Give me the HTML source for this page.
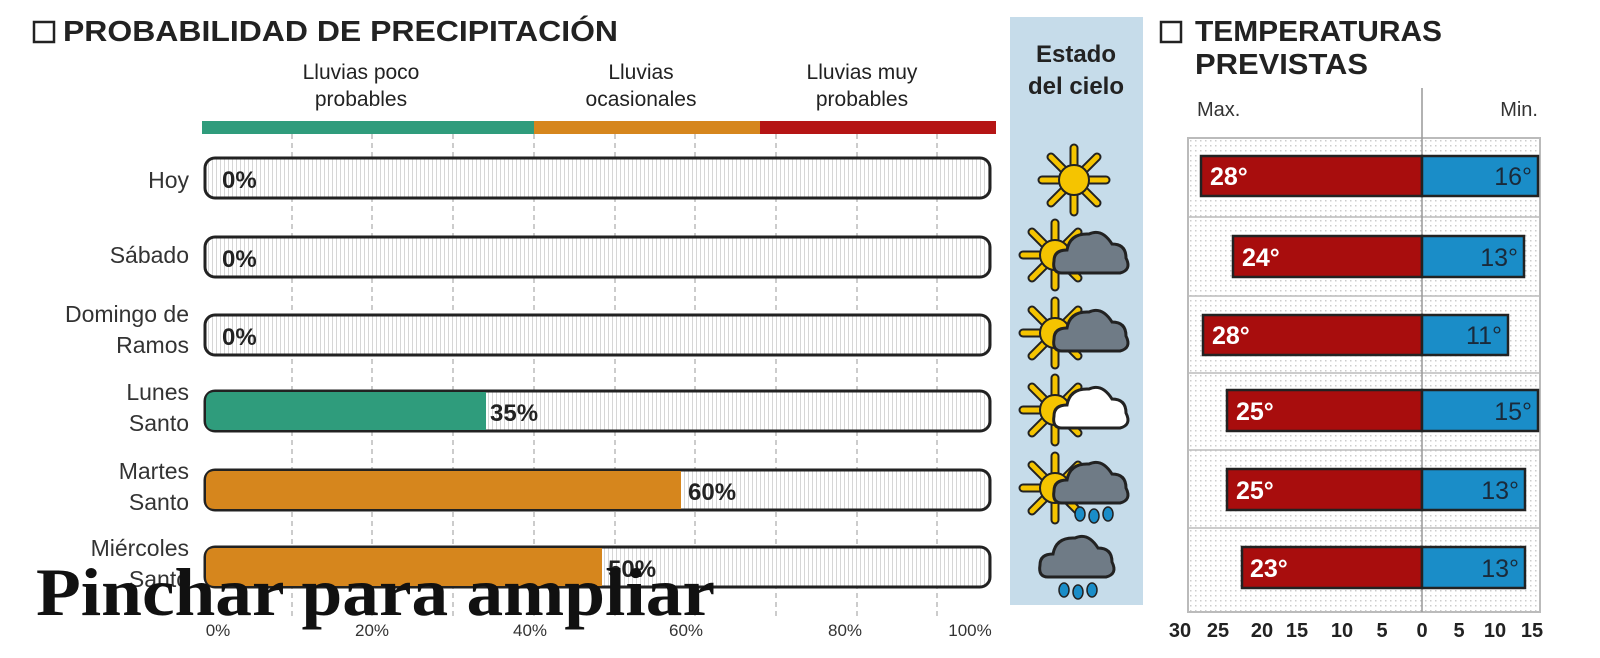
<!DOCTYPE html>
<html><head><meta charset="utf-8"><style>
body{margin:0;width:1600px;height:653px;background:#fff;overflow:hidden;font-family:"Liberation Sans",sans-serif;}
</style></head><body>
<svg width="1600" height="653" xmlns="http://www.w3.org/2000/svg" font-family="Liberation Sans, sans-serif">
<defs>
<pattern id="vl" width="4" height="10" patternUnits="userSpaceOnUse"><rect width="4" height="10" fill="#fff"/><rect x="0" width="1" height="10" fill="#d6d6d6"/></pattern>
<pattern id="dots" width="5" height="5" patternUnits="userSpaceOnUse"><rect width="5" height="5" fill="#fff"/><rect x="0" y="0" width="1.5" height="1.5" fill="#ccc"/></pattern>
<g id="sun"><g stroke="#222" stroke-width="9" stroke-linecap="round"><line x1="0" y1="-32" x2="0" y2="32"/><line x1="-32" y1="0" x2="32" y2="0"/><line x1="-23" y1="-23" x2="23" y2="23"/><line x1="-23" y1="23" x2="23" y2="-23"/></g><g stroke="#f5c400" stroke-width="5" stroke-linecap="round"><line x1="0" y1="-32" x2="0" y2="32"/><line x1="-32" y1="0" x2="32" y2="0"/><line x1="-23" y1="-23" x2="23" y2="23"/><line x1="-23" y1="23" x2="23" y2="-23"/></g><circle r="15" fill="#f5c400" stroke="#222" stroke-width="2"/></g>
<g id="cloud"><path d="M-30,15 Q-40,15 -38,3 Q-38,-8 -25,-8 Q-22,-25 -3,-24 Q10,-30 20,-14 Q34,-14 34,0 Q40,12 28,15 Z" stroke="#222" stroke-width="3"/></g>
<g id="drops" fill="#1a8dc8" stroke="#222" stroke-width="1.5"><ellipse cx="-14" cy="24" rx="5" ry="7"/><ellipse cx="0" cy="26" rx="5" ry="7"/><ellipse cx="14" cy="24" rx="5" ry="7"/></g>
</defs>
<rect x="34" y="22" width="20" height="20" fill="none" stroke="#222" stroke-width="2.5"/>
<text x="63" y="41" font-size="29" font-weight="bold" fill="#222" textLength="555" lengthAdjust="spacingAndGlyphs">PROBABILIDAD DE PRECIPITACIÓN</text>
<g font-size="21" fill="#222" text-anchor="middle">
<text x="361" y="79">Lluvias poco</text><text x="361" y="106">probables</text>
<text x="641" y="79">Lluvias</text><text x="641" y="106">ocasionales</text>
<text x="862" y="79">Lluvias muy</text><text x="862" y="106">probables</text>
</g>
<rect x="202" y="121" width="332" height="13" fill="#2f9c7c"/>
<rect x="534" y="121" width="226" height="13" fill="#d6861d"/>
<rect x="760" y="121" width="236" height="13" fill="#b51515"/>
<g stroke="#999" stroke-width="1" stroke-dasharray="5,4">
<line x1="292" y1="134" x2="292" y2="620"/><line x1="372" y1="134" x2="372" y2="620"/><line x1="453" y1="134" x2="453" y2="620"/><line x1="534" y1="134" x2="534" y2="620"/><line x1="615" y1="134" x2="615" y2="620"/><line x1="695" y1="134" x2="695" y2="620"/><line x1="776" y1="134" x2="776" y2="620"/><line x1="857" y1="134" x2="857" y2="620"/><line x1="937" y1="134" x2="937" y2="620"/>
</g>
<g stroke="#222" stroke-width="3">
<rect x="205" y="158" width="785" height="40" rx="10" fill="url(#vl)"/>
<rect x="205" y="237" width="785" height="40" rx="10" fill="url(#vl)"/>
<rect x="205" y="315" width="785" height="40" rx="10" fill="url(#vl)"/>
<rect x="205" y="391" width="785" height="40" rx="10" fill="url(#vl)"/>
<rect x="205" y="470" width="785" height="40" rx="10" fill="url(#vl)"/>
<rect x="205" y="547" width="785" height="40" rx="10" fill="url(#vl)"/>
</g>
<path d="M215,392 H486 V430 H215 Q206,430 206,421 V401 Q206,392 215,392Z" fill="#2f9c7c"/>
<path d="M215,471 H681 V509 H215 Q206,509 206,500 V480 Q206,471 215,471Z" fill="#d6861d"/>
<path d="M215,548 H602 V586 H215 Q206,586 206,577 V557 Q206,548 215,548Z" fill="#d6861d"/>
<g font-size="24" font-weight="bold" fill="#222">
<text x="222" y="188">0%</text><text x="222" y="267">0%</text><text x="222" y="345">0%</text>
<text x="490" y="421">35%</text><text x="688" y="500">60%</text><text x="608" y="577">50%</text>
</g>
<g font-size="23" fill="#333" text-anchor="end">
<text x="189" y="188">Hoy</text><text x="189" y="263">Sábado</text>
<text x="189" y="322">Domingo de</text><text x="189" y="353">Ramos</text>
<text x="189" y="400">Lunes</text><text x="189" y="431">Santo</text>
<text x="189" y="479">Martes</text><text x="189" y="510">Santo</text>
<text x="189" y="556">Miércoles</text><text x="189" y="587">Santo</text>
</g>
<g font-size="17" fill="#333" text-anchor="middle">
<text x="218" y="636">0%</text><text x="372" y="636">20%</text><text x="530" y="636">40%</text><text x="686" y="636">60%</text><text x="845" y="636">80%</text><text x="970" y="636">100%</text>
</g>
<text x="36" y="615" font-family="Liberation Serif, serif" font-size="68" font-weight="bold" fill="#111" textLength="679" lengthAdjust="spacingAndGlyphs">Pinchar para ampliar</text>
<rect x="1010" y="17" width="133" height="588" fill="#c6dcea"/>
<text x="1076" y="62" font-size="24" font-weight="bold" fill="#222" text-anchor="middle">Estado</text>
<text x="1076" y="94" font-size="24" font-weight="bold" fill="#222" text-anchor="middle">del cielo</text>
<use href="#sun" x="1074" y="180"/>
<use href="#sun" x="1055" y="255"/><use href="#cloud" x="1092" y="258" fill="#6f7b86"/>
<use href="#sun" x="1055" y="333"/><use href="#cloud" x="1092" y="336" fill="#6f7b86"/>
<use href="#sun" x="1055" y="410"/><use href="#cloud" x="1092" y="413" fill="#fff"/>
<use href="#sun" x="1055" y="488"/><use href="#cloud" x="1092" y="488" fill="#6f7b86"/><use href="#drops" x="1094" y="490"/>
<use href="#cloud" x="1078" y="562" fill="#6f7b86"/><use href="#drops" x="1078" y="566"/>
<rect x="1161" y="22" width="20" height="20" fill="none" stroke="#222" stroke-width="2.5"/>
<text x="1195" y="41" font-size="29" font-weight="bold" fill="#222" textLength="247" lengthAdjust="spacingAndGlyphs">TEMPERATURAS</text>
<text x="1195" y="74" font-size="29" font-weight="bold" fill="#222" textLength="173" lengthAdjust="spacingAndGlyphs">PREVISTAS</text>
<text x="1197" y="116" font-size="20" fill="#333">Max.</text>
<text x="1538" y="116" font-size="20" fill="#333" text-anchor="end">Min.</text>
<rect x="1188" y="138" width="352" height="474" fill="url(#dots)" stroke="#bbb" stroke-width="2"/>
<g stroke="#bbb" stroke-width="1.5">
<line x1="1188" y1="217" x2="1540" y2="217"/><line x1="1188" y1="296" x2="1540" y2="296"/><line x1="1188" y1="373" x2="1540" y2="373"/><line x1="1188" y1="450" x2="1540" y2="450"/><line x1="1188" y1="528" x2="1540" y2="528"/>
</g>
<line x1="1422" y1="88" x2="1422" y2="612" stroke="#999" stroke-width="1.5"/>
<g stroke="#222" stroke-width="2.5">
<rect x="1201" y="156" width="221" height="40" fill="#a80d0d"/><rect x="1422" y="156" width="116" height="40" fill="#1a8dc8"/>
<rect x="1233" y="236" width="189" height="41" fill="#a80d0d"/><rect x="1422" y="236" width="102" height="41" fill="#1a8dc8"/>
<rect x="1203" y="315" width="219" height="40" fill="#a80d0d"/><rect x="1422" y="315" width="86" height="40" fill="#1a8dc8"/>
<rect x="1227" y="390" width="195" height="41" fill="#a80d0d"/><rect x="1422" y="390" width="116" height="41" fill="#1a8dc8"/>
<rect x="1227" y="469" width="195" height="41" fill="#a80d0d"/><rect x="1422" y="469" width="103" height="41" fill="#1a8dc8"/>
<rect x="1242" y="547" width="180" height="41" fill="#a80d0d"/><rect x="1422" y="547" width="103" height="41" fill="#1a8dc8"/>
</g>
<g font-size="25" font-weight="bold" fill="#fff">
<text x="1210" y="185">28°</text><text x="1242" y="266">24°</text><text x="1212" y="344">28°</text>
<text x="1236" y="420">25°</text><text x="1236" y="499">25°</text><text x="1250" y="577">23°</text>
</g>
<g font-size="25" fill="#1a2a3a" text-anchor="end">
<text x="1532" y="185">16°</text><text x="1518" y="266">13°</text><text x="1502" y="344">11°</text>
<text x="1532" y="420">15°</text><text x="1519" y="499">13°</text><text x="1519" y="577">13°</text>
</g>
<g font-size="20" fill="#222" text-anchor="middle" font-weight="bold">
<text x="1180" y="637">30</text><text x="1218" y="637">25</text><text x="1262" y="637">20</text><text x="1297" y="637">15</text><text x="1342" y="637">10</text><text x="1382" y="637">5</text><text x="1422" y="637">0</text><text x="1459" y="637">5</text><text x="1495" y="637">10</text><text x="1532" y="637">15</text>
</g>
</svg>
</body></html>
